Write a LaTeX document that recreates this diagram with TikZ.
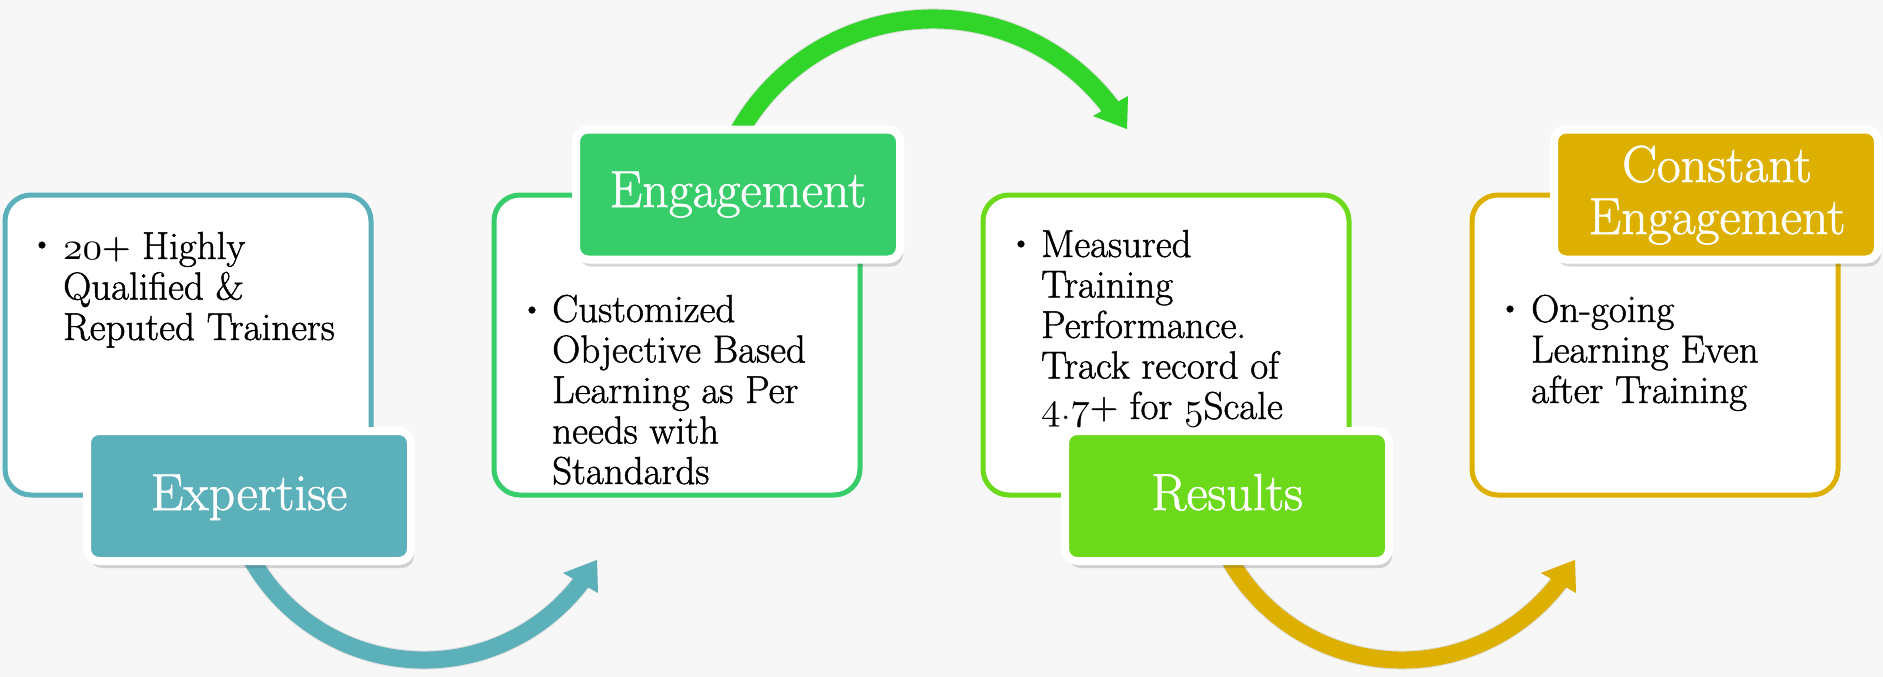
\documentclass[tikz,border=0pt]{standalone}
\usepackage{fontspec}
\setmainfont{Latin Modern Roman}[FakeBold=1.2]
\usetikzlibrary{shadows}
\definecolor{bgc}{HTML}{F7F7F7}
\definecolor{tealc}{HTML}{5BB0BA}
\definecolor{engc}{HTML}{37CD6A}
\definecolor{topc}{HTML}{31D52A}
\definecolor{limec}{HTML}{6CD91B}
\definecolor{goldc}{HTML}{DDB000}
\DeclareFontFamily{OML}{myosn}{}
\DeclareFontShape{OML}{myosn}{m}{it}{<-> cmmi10}{}
\newcommand\osn[1]{{\fontsize{39}{40.5}\usefont{OML}{myosn}{m}{it}#1}}
\begin{document}
\begin{tikzpicture}[x=1pt,y=-1pt,
  contentbox/.style={draw=#1, line width=5pt, fill=white, rounded corners=26pt,
    minimum width=366pt, minimum height=300pt, inner sep=0pt},
  labelbox/.style={draw=white, line width=8pt, fill=#1, rounded corners=12pt,
    minimum width=324pt, minimum height=130pt, inner sep=0pt,
    drop shadow={shadow xshift=3pt, shadow yshift=-7pt, opacity=.22, fill=black!70}},
  lbltext/.style={anchor=base, inner sep=0pt, text=white, font=\fontsize{52}{52}\selectfont},
  bodytext/.style={anchor=base west, inner sep=0pt, text=black, font=\fontsize{39}{40.5}\selectfont},
  bulletmark/.style={anchor=base, inner sep=0pt, text=black, font=\fontsize{30}{30}\selectfont},
  shaft/.style={line width=#1},
  arrowshadow/.style={black, opacity=.10}
]
\useasboundingbox (0,0) rectangle (1883,677);
\fill[bgc] (0,0) rectangle (1883,677);

% arc centres
\coordinate (c1) at (933,242);
\coordinate (c2) at (424,462);
\coordinate (c3) at (1402,462);
% arrow heads
\coordinate (h1a) at (1093,116); \coordinate (h1b) at (1128,96); \coordinate (h1c) at (1127,129);
\coordinate (h2a) at (563,573); \coordinate (h2b) at (597,560); \coordinate (h2c) at (598,593);
\coordinate (h3a) at (1541,573); \coordinate (h3b) at (1575,560); \coordinate (h3c) at (1576,593);

% arrow shadows
\begin{scope}[shift={(2,5)}]
  \draw[arrowshadow, shaft=21pt] ([shift={(155:223pt)}]c1) arc[start angle=155, end angle=36, radius=223pt];
  \fill[arrowshadow] (h1a) -- (h1b) -- (h1c) -- cycle;
  \draw[arrowshadow, shaft=19pt] ([shift={(205:198pt)}]c2) arc[start angle=205, end angle=324, radius=198pt];
  \fill[arrowshadow] (h2a) -- (h2b) -- (h2c) -- cycle;
  \draw[arrowshadow, shaft=19pt] ([shift={(205:198pt)}]c3) arc[start angle=205, end angle=324, radius=198pt];
  \fill[arrowshadow] (h3a) -- (h3b) -- (h3c) -- cycle;
\end{scope}

% arrows
\draw[topc, shaft=19pt] ([shift={(155:223pt)}]c1) arc[start angle=155, end angle=36, radius=223pt];
\fill[topc] (h1a) -- (h1b) -- (h1c) -- cycle;
\draw[tealc, shaft=17pt] ([shift={(205:198pt)}]c2) arc[start angle=205, end angle=324, radius=198pt];
\fill[tealc] (h2a) -- (h2b) -- (h2c) -- cycle;
\draw[goldc, shaft=17pt] ([shift={(205:198pt)}]c3) arc[start angle=205, end angle=324, radius=198pt];
\fill[goldc] (h3a) -- (h3b) -- (h3c) -- cycle;

% content boxes
\node[contentbox=tealc]  (b1) at (188,345) {};
\node[contentbox=engc]   (b2) at (677,345) {};
\node[contentbox=limec]  (b3) at (1166,345) {};
\node[contentbox=goldc]  (b4) at (1655,345) {};

% labels
\node[labelbox=tealc]  (l1) at (249,496) {};
\node[labelbox=engc]   (l2) at (738,194.5) {};
\node[labelbox=limec]  (l3) at (1227,496) {};
\node[labelbox=goldc]  (l4) at (1716,194.5) {};

\node[lbltext] (t1) at (249,510) {Expertise};
\node[lbltext] (t2) at (738,207) {Engagement};
\node[lbltext] (t3) at (1227,510) {Results};
\node[lbltext] (t4a) at (1717,182) {Constant};
\node[lbltext] (t4b) at (1717,234) {Engagement};

% bullets
\node[bulletmark] (d1) at (42,253) {\textbullet};
\node[bulletmark] (d2) at (532,318) {\textbullet};
\node[bulletmark] (d3) at (1021,252) {\textbullet};
\node[bulletmark] (d4) at (1510,317) {\textbullet};

% body texts
\node[bodytext] (x1) at (63,259) {\parbox[t]{300pt}{\raggedright \osn{20}+ Highly\\Qualified \&\\Reputed Trainers}};
\node[bodytext] (x2) at (552,322) {\parbox[t]{300pt}{\raggedright Customized\\Objective Based\\Learning as Per\\needs with\\Standards}};
\node[bodytext] (x3) at (1041,257) {\parbox[t]{300pt}{\raggedright Measured\\Training\\Performance.\\Track record of\\\osn{4}.\osn{7}+ for \osn{5}Scale}};
\node[bodytext] (x4) at (1531,322) {\parbox[t]{300pt}{\raggedright On-going\\Learning Even\\after Training}};
\end{tikzpicture}
\end{document}
